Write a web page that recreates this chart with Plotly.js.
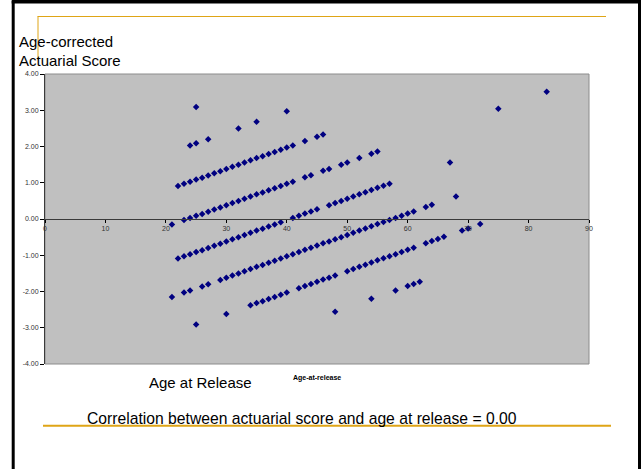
<!DOCTYPE html>
<html>
<head>
<meta charset="utf-8">
<script src="https://cdn.plot.ly/plotly-3.0.1.min.js"></script>
<style>
  html, body { margin: 0; padding: 0; background: #ffffff; }
  #chart { width: 642px; height: 469px; }
</style>
</head>
<body>
<div id="chart"></div>
<script>
// ---- data, one line per diagonal band ----
const ageAtRelease = [
  25,
  24, 25, 27, 32, 35, 40,
  22, 23, 24, 25, 26, 27, 28, 29, 30, 31, 32, 33, 34, 35, 36, 37, 38, 39, 40, 41, 43, 45, 46,
  21, 23, 24, 25, 26, 27, 28, 29, 30, 31, 32, 33, 34, 35, 36, 37, 38, 39, 40, 41, 43, 44, 46, 47, 49, 50, 52, 54, 55, 75, 83,
  22, 23, 24, 25, 26, 27, 28, 29, 30, 31, 32, 33, 34, 35, 36, 37, 38, 39, 41, 42, 43, 44, 45, 47, 48, 49, 50, 51, 52, 53, 54, 55, 56, 57, 67,
  21, 23, 24, 26, 27, 29, 30, 31, 32, 33, 34, 35, 36, 37, 38, 39, 40, 41, 42, 43, 44, 45, 46, 47, 48, 49, 50, 51, 52, 53, 54, 55, 56, 57, 58, 59, 60, 61, 63, 64, 68,
  25, 30, 34, 35, 36, 37, 38, 39, 40, 42, 43, 44, 45, 46, 47, 48, 50, 51, 52, 53, 54, 55, 56, 57, 58, 59, 60, 61, 63, 64, 65, 66, 69, 70, 72,
  48, 54, 58, 60, 61, 62
];
const ageCorrectedScore = [
  3.09,
  2.03, 2.09, 2.20, 2.50, 2.68, 2.97,
  0.91, 0.97, 1.03, 1.09, 1.14, 1.20, 1.26, 1.32, 1.38, 1.44, 1.50, 1.56, 1.62, 1.68, 1.73, 1.79, 1.85, 1.91, 1.97, 2.03, 2.15, 2.27, 2.33,
  -0.15, -0.03, 0.03, 0.09, 0.14, 0.20, 0.26, 0.32, 0.38, 0.44, 0.50, 0.56, 0.62, 0.68, 0.73, 0.79, 0.85, 0.91, 0.97, 1.03, 1.15, 1.21, 1.33, 1.38, 1.50, 1.56, 1.68, 1.80, 1.86, 3.04, 3.51,
  -1.09, -1.03, -0.97, -0.91, -0.86, -0.80, -0.74, -0.68, -0.62, -0.56, -0.50, -0.44, -0.38, -0.32, -0.27, -0.21, -0.15, -0.09, 0.03, 0.09, 0.15, 0.21, 0.27, 0.38, 0.44, 0.50, 0.56, 0.62, 0.68, 0.74, 0.80, 0.86, 0.92, 0.97, 1.56,
  -2.15, -2.03, -1.97, -1.86, -1.80, -1.68, -1.62, -1.56, -1.50, -1.44, -1.38, -1.32, -1.27, -1.21, -1.15, -1.09, -1.03, -0.97, -0.91, -0.85, -0.79, -0.73, -0.67, -0.62, -0.56, -0.50, -0.44, -0.38, -0.32, -0.26, -0.20, -0.14, -0.08, -0.03, 0.03, 0.09, 0.15, 0.21, 0.33, 0.39, 0.62,
  -2.91, -2.62, -2.38, -2.32, -2.27, -2.21, -2.15, -2.09, -2.03, -1.91, -1.85, -1.79, -1.73, -1.67, -1.62, -1.56, -1.44, -1.38, -1.32, -1.26, -1.20, -1.14, -1.08, -1.03, -0.97, -0.91, -0.85, -0.79, -0.67, -0.61, -0.55, -0.49, -0.32, -0.26, -0.14,
  -2.56, -2.20, -1.97, -1.85, -1.79, -1.73
];
const xTickValues = [0, 10, 20, 30, 40, 50, 60, 70, 80, 90];
const xTickLabels = ["0", "10", "20", "30", "40", "50", "60", "70", "80", "90"];
const yTickValues = [-4, -3, -2, -1, 0, 1, 2, 3, 4];
const yTickLabels = ["-4.00", "-3.00", "-2.00", "-1.00", "0.00", "1.00", "2.00", "3.00", "4.00"];

const yAxisTitleLines = ["Age-corrected", "Actuarial Score"];
const xAxisTitle = "Age at Release";
const xAxisSeriesLabel = "Age-at-release";
const footnote = "Correlation between actuarial score and age at release = 0.00";

// ---- layout geometry (pixels) ----
const W = 642, H = 469;
const M = { l: 45, r: 53, t: 74, b: 105 };
const PW = W - M.l - M.r, PH = H - M.t - M.b;
const px = x => (x - M.l) / PW;
const py = y => (H - M.b - y) / PH;

const GOLD = "#DFA516";
const FONT = "Liberation Sans, Arial, sans-serif";

const shapes = [
  // plot area border
  { type: "rect", xref: "paper", yref: "paper", x0: 0, x1: 1, y0: 0, y1: 1,
    line: { color: "#8c8c8c", width: 1 }, layer: "below" },
  // slide frame (left, right, top)
  { type: "line", xref: "paper", yref: "paper", x0: px(13.2), x1: px(13.2), y0: py(1), y1: py(475),
    line: { color: "#000000", width: 3 }, layer: "above" },
  { type: "line", xref: "paper", yref: "paper", x0: px(639.5), x1: px(639.5), y0: py(1), y1: py(475),
    line: { color: "#000000", width: 3 }, layer: "above" },
  { type: "rect", xref: "paper", yref: "paper", x0: px(11.7), x1: px(641), y0: py(3.5), y1: py(0),
    fillcolor: "#000000", line: { width: 0 }, layer: "above" },
  // gold decorative lines
  { type: "line", xref: "paper", yref: "paper", x0: px(37.5), x1: px(606), y0: py(16.5), y1: py(16.5),
    line: { color: GOLD, width: 1 }, layer: "above" },
  { type: "line", xref: "paper", yref: "paper", x0: px(38), x1: px(38), y0: py(16.5), y1: py(60),
    line: { color: GOLD, width: 1 }, layer: "above" },
  { type: "line", xref: "paper", yref: "paper", x0: px(43), x1: px(611), y0: py(425.7), y1: py(425.7),
    line: { color: GOLD, width: 2 }, layer: "above" }
];

const annotations = [
  { text: yAxisTitleLines[0], xref: "paper", yref: "paper", x: px(17), y: py(41.5),
    xanchor: "left", yanchor: "middle", showarrow: false, font: { family: FONT, size: 15, color: "#000" } },
  { text: yAxisTitleLines[1], xref: "paper", yref: "paper", x: px(17), y: py(60.5),
    xanchor: "left", yanchor: "middle", showarrow: false, font: { family: FONT, size: 15, color: "#000" } },
  { text: xAxisTitle, xref: "paper", yref: "paper", x: px(147), y: py(382),
    xanchor: "left", yanchor: "middle", showarrow: false, font: { family: FONT, size: 15, color: "#000" } },
  { text: "<b>" + xAxisSeriesLabel + "</b>", xref: "paper", yref: "paper", x: px(291), y: py(378),
    xanchor: "left", yanchor: "middle", showarrow: false, font: { family: FONT, size: 7, color: "#000" } },
  { text: footnote, xref: "paper", yref: "paper", x: px(85), y: py(418.5),
    xanchor: "left", yanchor: "middle", showarrow: false, font: { family: FONT, size: 15.7, color: "#000" } }
];

const trace = {
  type: "scatter",
  mode: "markers",
  x: ageAtRelease,
  y: ageCorrectedScore,
  marker: { symbol: "diamond", size: 5, color: "#000080", line: { width: 0 } },
  hoverinfo: "x+y"
};

const layout = {
  width: W, height: H,
  margin: { l: M.l, r: M.r, t: M.t, b: M.b, pad: 0 },
  paper_bgcolor: "#ffffff",
  plot_bgcolor: "#c0c0c0",
  showlegend: false,
  font: { family: FONT, size: 7, color: "#222" },
  xaxis: {
    range: [0, 90], tickvals: xTickValues, ticktext: xTickLabels,
    anchor: "free", position: 0.5,
    showgrid: false, zeroline: false,
    showline: true, linecolor: "#3a3a3a", linewidth: 1,
    ticks: "outside", ticklen: 3, tickcolor: "#000", tickwidth: 1,
    tickfont: { family: FONT, size: 7, color: "#333" },
    fixedrange: true
  },
  yaxis: {
    range: [-4, 4], tickvals: yTickValues, ticktext: yTickLabels,
    showgrid: false, zeroline: false,
    showline: true, linecolor: "#3a3a3a", linewidth: 1,
    ticks: "outside", ticklen: 4, tickcolor: "#000", tickwidth: 1,
    tickfont: { family: FONT, size: 7, color: "#333" },
    fixedrange: true
  },
  shapes: shapes,
  annotations: annotations
};

Plotly.newPlot("chart", [trace], layout, { staticPlot: true, displayModeBar: false });
</script>
</body>
</html>
